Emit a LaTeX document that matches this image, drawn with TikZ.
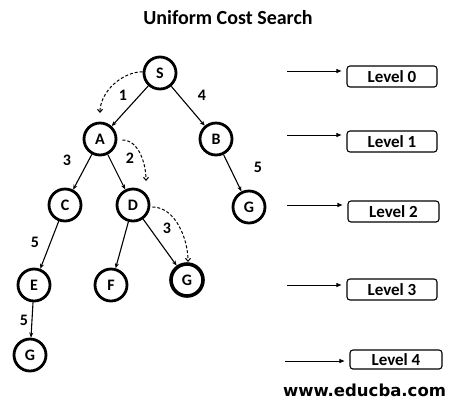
\documentclass[tikz,border=0pt]{standalone}
\usepackage{fontspec}
\setmainfont{Carlito}
\newfontfamily\webfont{DejaVu Sans}
\usetikzlibrary{arrows.meta}
\begin{document}
\begin{tikzpicture}[x=1pt,y=-1pt,
  state/.style={circle,draw,line width=2.8pt,minimum size=32pt,inner sep=0pt,
    font=\bfseries\fontsize{16}{16}\selectfont},
  goal/.style={state,line width=3.6pt},
  edge/.style={-{Stealth[length=5pt,width=4pt]},line width=1.1pt},
  trace/.style={dashed,dash pattern=on 3pt off 2pt,line width=1pt,
    -{Straight Barb[length=3pt,width=5pt]}},
  cost/.style={font=\bfseries\fontsize{16}{16}\selectfont},
  levelbox/.style={draw,rounded corners=3pt,line width=1.1pt,minimum width=90pt,
    minimum height=21pt,inner sep=0pt,font=\bfseries\fontsize{17}{17}\selectfont},
  levelarrow/.style={-{Triangle[length=5pt,width=4pt]},line width=0.9pt,shorten >=5pt}]
\useasboundingbox (0,0) rectangle (462,408);

% title
\node[font=\bfseries\fontsize{20}{24}\selectfont] (title) at (228,18) {Uniform Cost Search};

% search tree
\node[state] (S)  at (160,73)  {S};
\node[state] (A)  at (100,139) {A};
\node[state] (B)  at (216,139) {B};
\node[state] (C)  at (65,205)  {C};
\node[state] (D)  at (133,205) {D};
\node[state] (G1) at (249,207) {G};
\node[state] (E)  at (34,285)  {E};
\node[state] (F)  at (111,285) {F};
\node[goal]  (G2) at (187,280) {G};
\node[state] (G3) at (30,355)  {G};

\draw[edge] (S) -- (A);
\draw[edge] (S) -- (B);
\draw[edge] (A) -- (C);
\draw[edge] (A) -- (D);
\draw[edge] (B) -- (G1);
\draw[edge] (C) -- (E);
\draw[edge] (D) -- (F);
\draw[edge] (D) -- (G2);
\draw[edge] (E) -- (G3);

% path costs
\node[cost] (c1) at (123,95)  {1};
\node[cost] (c2) at (202,95)  {4};
\node[cost] (c3) at (67,160)  {3};
\node[cost] (c4) at (130,158) {2};
\node[cost] (c5) at (258,167) {5};
\node[cost] (c6) at (35,242)  {5};
\node[cost] (c7) at (167,228) {3};
\node[cost] (c8) at (24,320)  {5};

% order of expansion
\coordinate (t1) at (100,113);
\coordinate (t2) at (146,181);
\coordinate (t3) at (188,262);
\draw[trace] (S.176) to[out=180,in=90,looseness=0.9] (t1);
\draw[trace] (A.east) ++(5,1) to[out=0,in=90,looseness=0.9] (t2);
\draw[trace] (D.east) ++(2,2) to[out=0,in=90,looseness=0.9] (t3);

% level markers
\node[levelbox] (L0) at (392,76.5)  {Level 0};
\node[levelbox] (L1) at (392,141.5) {Level 1};
\node[levelbox,minimum width=91pt] (L2) at (393.5,211.5) {Level 2};
\node[levelbox] (L3) at (392,289.5) {Level 3};
\node[levelbox,minimum width=92pt,minimum height=19pt] (L4) at (396,359.5) {Level 4};

\coordinate (s0) at (287,71);
\coordinate (s1) at (287,135);
\coordinate (s2) at (287,205);
\coordinate (s3) at (287,285);
\coordinate (s4) at (285,361);
\draw[levelarrow] (s0) -- (s0 -| L0.west);
\draw[levelarrow] (s1) -- (s1 -| L1.west);
\draw[levelarrow] (s2) -- (s2 -| L2.west);
\draw[levelarrow] (s3) -- (s3 -| L3.west);
\draw[levelarrow] (s4) -- (s4 -| L4.west);

% footer
\node[font=\webfont\bfseries\fontsize{16.5}{18}\selectfont] (web) at (364.5,390) {www.educba.com};
\end{tikzpicture}
\end{document}
